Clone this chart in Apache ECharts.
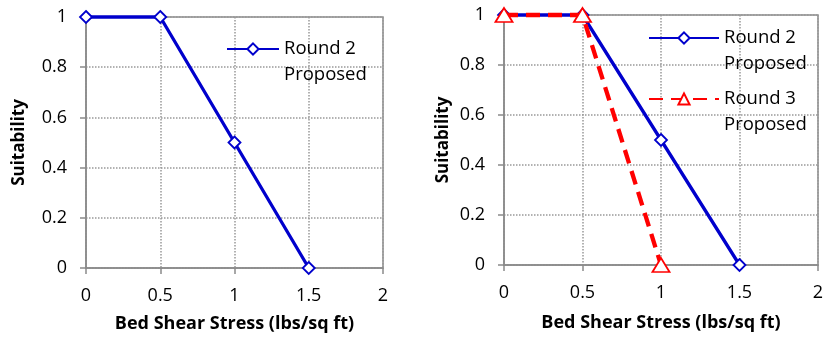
<!DOCTYPE html>
<html><head><meta charset="utf-8">
<script src="https://cdn.jsdelivr.net/npm/echarts@6/dist/echarts.min.js"></script>
<style>html,body{margin:0;padding:0;background:#fff}#c{width:830px;height:339px}</style>
</head><body><div id="c"></div>
<script>
const xTicks = [0, 0.5, 1, 1.5, 2];
const yTicks = [0, 0.2, 0.4, 0.6, 0.8, 1];
const round2X = [0, 0.5, 1, 1.5];
const round2Y = [1, 1, 0.5, 0];
const round3X = [0, 0.5, 1];
const round3Y = [1, 1, 0];
const name2 = 'Round 2\nProposed';
const name3 = 'Round 3\nProposed';
const xTitle = 'Bed Shear Stress (lbs/sq ft)';
const yTitle = 'Suitability';

const FONT = 'Open Sans';
const GRAY = '#8a8a8a';
const BLUE = '#0000cc';
const RED = '#ff0000';

function pts(xs, ys){ return xs.map((x,i)=>[x, ys[i]]); }

function xAxis(idx, gap){
  return {
    type:'value', gridIndex: idx, min: xTicks[0], max: xTicks[xTicks.length-1], interval: 0.5,
    name: xTitle, nameLocation:'middle', nameGap: gap,
    nameTextStyle:{fontFamily:FONT, fontWeight:'bold', fontSize:18, color:'#000'},
    axisLine:{show:true, onZero:false, lineStyle:{color:GRAY, width:1.5}},
    axisTick:{show:true, inside:false, length:6, lineStyle:{color:GRAY, width:1.5}},
    axisLabel:{margin:19, fontFamily:FONT, fontSize:18, color:'#000'},
    splitLine:{show:true, lineStyle:{type:'dotted', color:'#999', width:1.5}}
  };
}
function yAxis(idx, gap){
  return {
    type:'value', gridIndex: idx, min: yTicks[0], max: yTicks[yTicks.length-1], interval: 0.2,
    name: yTitle, nameLocation:'middle', nameGap: gap, nameRotate: 90,
    nameTextStyle:{fontFamily:FONT, fontWeight:'bold', fontSize:17, color:'#000'},
    axisLine:{show:true, onZero:false, lineStyle:{color:GRAY, width:1.5}},
    axisTick:{show:true, inside:false, length:6, lineStyle:{color:GRAY, width:1.5}},
    axisLabel:{margin:19, fontFamily:FONT, fontSize:18, color:'#000'},
    splitLine:{show:true, lineStyle:{type:'dotted', color:'#999', width:1.5}}
  };
}
function s2(idx){
  return {name:name2, type:'line', xAxisIndex:idx, yAxisIndex:idx, data: pts(round2X, round2Y),
    symbol:'diamond', symbolSize:12, showAllSymbol:true, clip:false, z: 2,
    lineStyle:{color:BLUE, width:3.3}, itemStyle:{color:'#fff', borderColor:BLUE, borderWidth:1.8}};
}
function s3(idx){
  return {name:name3, type:'line', xAxisIndex:idx, yAxisIndex:idx, data: pts(round3X, round3Y),
    symbol:'triangle', symbolSize:[17,14], showAllSymbol:true, clip:false, z: 3,
    lineStyle:{color:RED, width:4.3, type:[14,8]}, itemStyle:{color:'#fff', borderColor:RED, borderWidth:1.8}};
}
const legendText = {fontFamily:FONT, fontSize:18.5, color:'#000', lineHeight:26};
const legendFmt = n => '\n' + n;

const chart = echarts.init(document.getElementById('c'), null, {renderer:'canvas'});
chart.setOption({
  animation:false,
  grid:[
    {left:86, right:447, top:17, bottom:71, show:true, borderColor:GRAY, borderWidth:1.5, backgroundColor:'transparent'},
    {left:504, right:12, top:15, bottom:74, show:true, borderColor:GRAY, borderWidth:1.5, backgroundColor:'transparent'}
  ],
  xAxis:[xAxis(0, 47), xAxis(1, 49)],
  yAxis:[yAxis(0, 58), yAxis(1, 52)],
  legend:[
    {data:[name2], left:226, top:10, padding:0, itemWidth:52, itemHeight:14, itemGap:-17, orient:'vertical', textStyle:legendText, formatter:legendFmt, selectedMode:false},
    {data:[name2, name3], left:648, top:-1, padding:0, itemWidth:70, itemHeight:14, itemGap:-17, orient:'vertical', textStyle:legendText, formatter:legendFmt, selectedMode:false}
  ],
  series:[s2(0), s2(1), s3(1)]
});
</script>
</body></html>
